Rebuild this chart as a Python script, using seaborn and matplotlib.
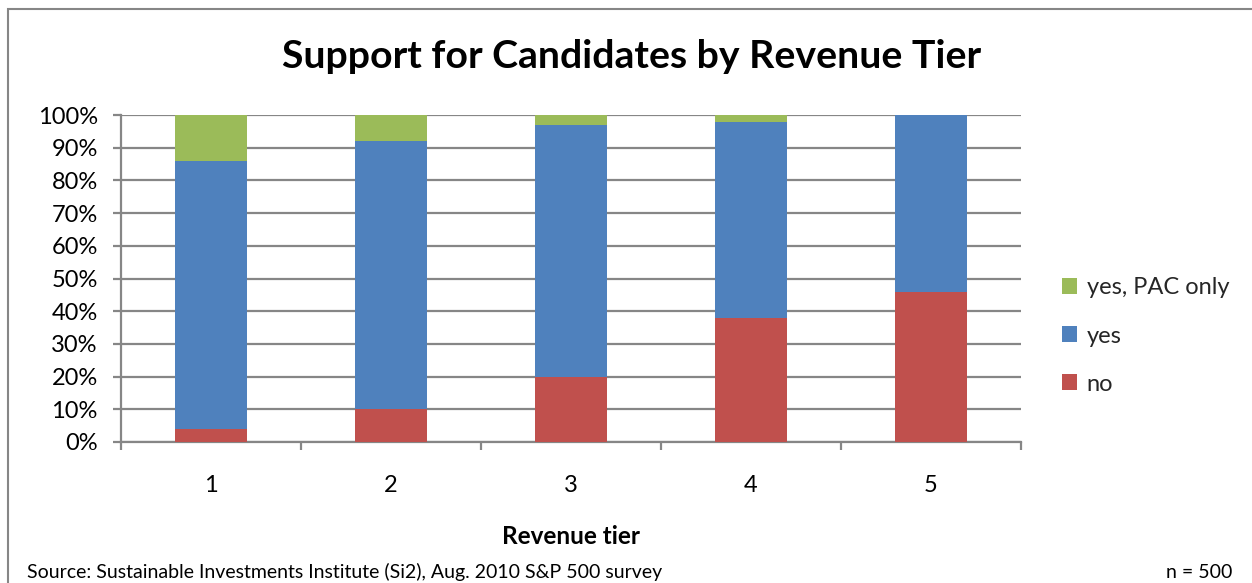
import matplotlib
matplotlib.use("Agg")
import matplotlib.pyplot as plt
from matplotlib.patches import Rectangle, Patch
from matplotlib.ticker import PercentFormatter, MultipleLocator, FixedLocator
import numpy as np
import pandas as pd
import seaborn as sns

tiers = ["1", "2", "3", "4", "5"]
no_pct = [4, 10, 20, 38, 46]
yes_pct = [82, 82, 77, 60, 54]
pac_only_pct = [14, 8, 3, 2, 0]

series_names = ["yes, PAC only", "yes", "no"]
colors = {"no": "#C0504D", "yes": "#4F81BD", "yes, PAC only": "#9BBB59"}

sns.set_theme(style="white")
plt.rcParams["font.family"] = ["Lato", "DejaVu Sans"]

df = pd.DataFrame({"tier": tiers, "no": no_pct, "yes": yes_pct, "pac": pac_only_pct})
df["top_no"] = df["no"]
df["top_yes"] = df["no"] + df["yes"]
df["top_pac"] = df["top_yes"] + df["pac"]

fig = plt.figure(figsize=(12.52, 5.83), dpi=100)
ax = fig.add_axes([121 / 1252, 1 - 442 / 583, 900 / 1252, 327 / 583])

grid_c = "#868686"
# stacked bars: draw cumulative totals from the tallest down
for col, name in [("top_pac", "yes, PAC only"), ("top_yes", "yes"), ("top_no", "no")]:
    sns.barplot(data=df, x="tier", y=col, color=colors[name], width=0.4,
                saturation=1, ax=ax, zorder=3, edgecolor="none", errorbar=None)

ax.set_ylim(0, 100)
ax.set_xlim(-0.5, 4.5)
ax.yaxis.set_major_locator(MultipleLocator(10))
ax.yaxis.set_major_formatter(PercentFormatter(decimals=0))
ax.grid(axis="y", color=grid_c, linewidth=1.6, zorder=0)
ax.set_axisbelow(True)
for s in ["top", "right"]:
    ax.spines[s].set_visible(False)
for s in ["left", "bottom"]:
    ax.spines[s].set_color(grid_c)
    ax.spines[s].set_linewidth(1.6)

ax.xaxis.set_minor_locator(FixedLocator(np.arange(-0.5, 5.0, 1.0)))
ax.tick_params(axis="x", which="major", length=0, pad=24, labelsize=17, labelcolor="black")
ax.tick_params(axis="x", which="minor", length=5.8, width=1.6, color=grid_c, direction="out", bottom=True)
ax.tick_params(axis="y", which="major", length=5.8, width=1.6, color=grid_c, direction="out", left=True,
               labelsize=17, labelcolor="black", pad=11)
ax.set_xlabel("")
ax.set_ylabel("")

fig.text(632 / 1252, 1 - 57 / 583, "Support for Candidates by Revenue Tier",
         ha="center", va="center", fontsize=28.3, fontweight="bold", color="black")
fig.text(571 / 1252, 1 - 537 / 583, "Revenue tier", ha="center", va="center",
         fontsize=17.5, fontweight="bold", color="black")
fig.text(27 / 1252, 1 - 572 / 583, "Source: Sustainable Investments Institute (Si2), Aug. 2010 S&P 500 survey",
         ha="left", va="center", fontsize=14, color="black")
fig.text(1232 / 1252, 1 - 572 / 583, "n = 500", ha="right", va="center", fontsize=14, color="black")

handles = [Patch(facecolor=colors[n], edgecolor="none") for n in series_names]
fig.legend(handles, series_names, loc="center left", bbox_to_anchor=(1062 / 1252, 1 - 336 / 583),
           frameon=False, fontsize=17, handlelength=0.65, handleheight=0.65, handletextpad=0.4,
           labelspacing=1.15, borderaxespad=0, borderpad=0)

fig.patches.append(Rectangle((8 / 1252, -0.05), 1.1, 1 - 9 / 583 + 0.05, transform=fig.transFigure,
                             fill=False, edgecolor="#868686", linewidth=1.5))

fig.savefig("out.png", dpi=100)
